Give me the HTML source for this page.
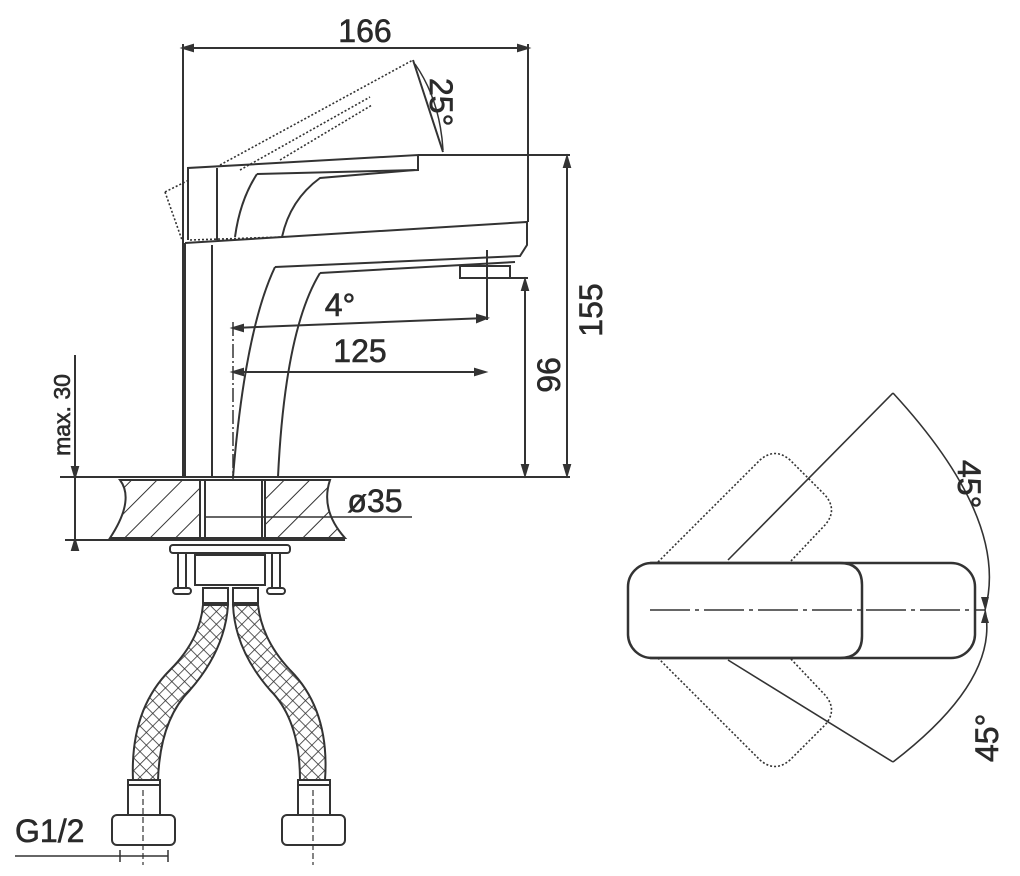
<!DOCTYPE html>
<html><head><meta charset="utf-8"><style>
html,body{margin:0;padding:0;background:#fff;}
svg{display:block;}
text{font-family:"Liberation Sans Narrow","Liberation Sans",sans-serif;fill:#2a2a2a;stroke:#2a2a2a;stroke-width:0.6;}
</style></head><body>
<svg width="1020" height="876" viewBox="0 0 1020 876" xmlns="http://www.w3.org/2000/svg">
<defs>
<pattern id="hat" width="18" height="18" patternUnits="userSpaceOnUse" patternTransform="rotate(45)">
<rect width="18" height="18" fill="#fff"/><line x1="0" y1="0" x2="0" y2="18" stroke="#333" stroke-width="2"/></pattern>
<pattern id="mesh" width="9" height="9" patternUnits="userSpaceOnUse" patternTransform="rotate(45)">
<rect width="9" height="9" fill="#fff"/><line x1="0" y1="0" x2="0" y2="9" stroke="#333" stroke-width="1.6"/><line x1="0" y1="0" x2="9" y2="0" stroke="#333" stroke-width="1.6"/></pattern>
</defs>
<g fill="none" stroke="#333" stroke-width="2">
<line x1="183" y1="48" x2="528" y2="48"/>
<path d="M193,45 L183,48 L193,51z M518,45 L528,48 L518,51z" fill="#333"/>
<line x1="183" y1="44" x2="183" y2="477"/>
<line x1="528" y1="44" x2="528" y2="222"/>
<g stroke-dasharray="2,2" stroke-width="1.6">
<line x1="220" y1="165" x2="413" y2="60"/>
<line x1="165" y1="192" x2="189" y2="180"/>
<line x1="165" y1="192" x2="182" y2="240"/>
<line x1="240" y1="170" x2="370" y2="97"/>
<line x1="280" y1="160" x2="372" y2="105"/>
<line x1="190" y1="240" x2="282" y2="237"/>
</g>
<line x1="413" y1="60" x2="443" y2="152"/>
<path d="M415,64 Q440,100 443,150" stroke-width="1.5"/>
<polyline points="188,240 188,168 418,155 418,170 257,174"/>
<line x1="217" y1="168" x2="217" y2="240"/>
<path d="M257,174 Q240,200 235,237"/>
<path d="M415,170 L320,178 Q290,200 282,237"/>
<line x1="418" y1="155" x2="570" y2="155"/>
<polyline points="185,243 527,222 527,245 520,256 275,267"/>
<path d="M275,267 Q245,330 233,477"/>
<path d="M320,273 L515,262" />
<path d="M320,273 Q285,330 278,477"/>
<line x1="185" y1="243" x2="185" y2="477"/>
<line x1="212" y1="245" x2="212" y2="477"/>
<rect x="460" y="266" width="50" height="12"/>
<line x1="487" y1="250" x2="487" y2="320"/>
<line x1="510" y1="278" x2="528" y2="278"/>
<line x1="525" y1="280" x2="525" y2="475"/>
<path d="M522,290 L525,280 L528,290z M522,465 L525,475 L528,465z" fill="#333"/>
<line x1="567" y1="157" x2="567" y2="475"/>
<path d="M564,167 L567,157 L570,167z M564,465 L567,475 L570,465z" fill="#333"/>
<line x1="60" y1="477" x2="570" y2="477"/>
<line x1="233" y1="328" x2="487" y2="318"/>
<path d="M243,325 L233,328 L243,331z M477,315 L487,318 L477,322z" fill="#333"/>
<line x1="233" y1="372" x2="485" y2="372"/>
<path d="M243,369 L233,372 L243,375z M475,369 L485,372 L475,375z" fill="#333"/>
<line x1="233" y1="322" x2="233" y2="525" stroke-dasharray="14,3,2,3" stroke-width="1.5"/>
<path d="M120,480 Q135,500 110,538 L200,538 L200,480z" fill="url(#hat)"/>
<path d="M265,480 L330,480 Q320,510 345,538 L265,538z" fill="url(#hat)"/>
<rect x="200" y="480" width="65" height="58" fill="#fff"/>
<line x1="205" y1="480" x2="205" y2="538"/>
<line x1="262" y1="480" x2="262" y2="538"/>
<line x1="205" y1="517" x2="262" y2="517" stroke-width="1.5"/>
<line x1="262" y1="517" x2="412" y2="517" stroke-width="1.5"/>
<line x1="110" y1="540" x2="345" y2="540"/>
<line x1="75" y1="355" x2="75" y2="540"/>
<path d="M72,467 L75,477 L78,467z M72,550 L75,540 L78,550z" fill="#333"/>
<line x1="65" y1="540" x2="112" y2="540"/>
<rect x="170" y="545" width="120" height="8" rx="3"/>
<rect x="195" y="555" width="70" height="30"/>
<line x1="178" y1="553" x2="178" y2="588"/><line x1="186" y1="553" x2="186" y2="588"/>
<line x1="272" y1="553" x2="272" y2="588"/><line x1="280" y1="553" x2="280" y2="588"/>
<rect x="173" y="588" width="18" height="6" rx="3"/><rect x="267" y="588" width="18" height="6" rx="3"/>
<rect x="203" y="588" width="25" height="15"/><rect x="233" y="588" width="25" height="15"/>
<path d="M203,605 L228,605 Q225,650 190,690 Q160,720 158,780 L133,780 Q130,710 170,670 Q200,640 203,605z" fill="url(#mesh)"/>
<path d="M233,605 L258,605 Q262,640 290,670 Q330,710 325,780 L300,780 Q300,720 270,690 Q235,650 233,605z" fill="url(#mesh)"/>
<rect x="128" y="780" width="32" height="35"/><line x1="128" y1="785" x2="160" y2="785"/>
<rect x="298" y="780" width="32" height="35"/><line x1="298" y1="785" x2="330" y2="785"/>
<rect x="112" y="815" width="63" height="30" rx="5"/>
<rect x="282" y="815" width="63" height="30" rx="5"/>
<line x1="120" y1="850" x2="120" y2="862" stroke-width="1.5"/><line x1="168" y1="850" x2="168" y2="862" stroke-width="1.5"/>
<line x1="15" y1="856" x2="168" y2="856" stroke-width="1.5"/>
<line x1="143" y1="790" x2="143" y2="865" stroke-dasharray="6,3" stroke-width="1.2"/>
<line x1="313" y1="790" x2="313" y2="865" stroke-dasharray="6,3" stroke-width="1.2"/>
<g stroke-dasharray="2,2" stroke-width="1.6">
<path d="M658,562 L760,460 Q775,447 790,460 L825,495 Q838,510 825,525 L790,562"/>
<path d="M658,658 L760,760 Q775,773 790,760 L825,725 Q838,710 825,695 L790,658"/>
</g>
<line x1="893" y1="393" x2="728" y2="560" stroke-width="1.6"/>
<line x1="893" y1="762" x2="728" y2="660" stroke-width="1.6"/>
<path d="M893,393 Q1010,520 985,610 Q1000,680 893,762" stroke-width="1.6"/>
<rect x="628" y="563" width="347" height="95" rx="24" stroke-width="2.5"/>
<path d="M650,563 L840,563 Q862,563 862,585 L862,636 Q862,658 840,658 L650,658" stroke-width="2.5"/>
<line x1="650" y1="610" x2="985" y2="610" stroke-width="1.6" stroke-dasharray="40,5,4,5"/>
<path d="M981,597 L985,610 L989,597z M981,623 L985,610 L989,623z" fill="#333" stroke="none"/>
</g>
<g font-size="32">
<text x="365" y="42" text-anchor="middle">166</text>
<text x="340" y="316" text-anchor="middle">4°</text>
<text x="360" y="362" text-anchor="middle">125</text>
<text x="375" y="512" text-anchor="middle">ø35</text>
<text x="15" y="842">G1/2</text>
<text transform="translate(430,78) rotate(90)">25°</text>
<text transform="translate(560,375) rotate(-90)" text-anchor="middle">96</text>
<text transform="translate(602,310) rotate(-90)" text-anchor="middle">155</text>
<text transform="translate(70,415) rotate(-90)" text-anchor="middle" font-size="23">max. 30</text>
<text transform="translate(958,460) rotate(90)">45°</text>
<text transform="translate(998,762) rotate(-90)">45°</text>
</g>
</svg>
</body></html>
